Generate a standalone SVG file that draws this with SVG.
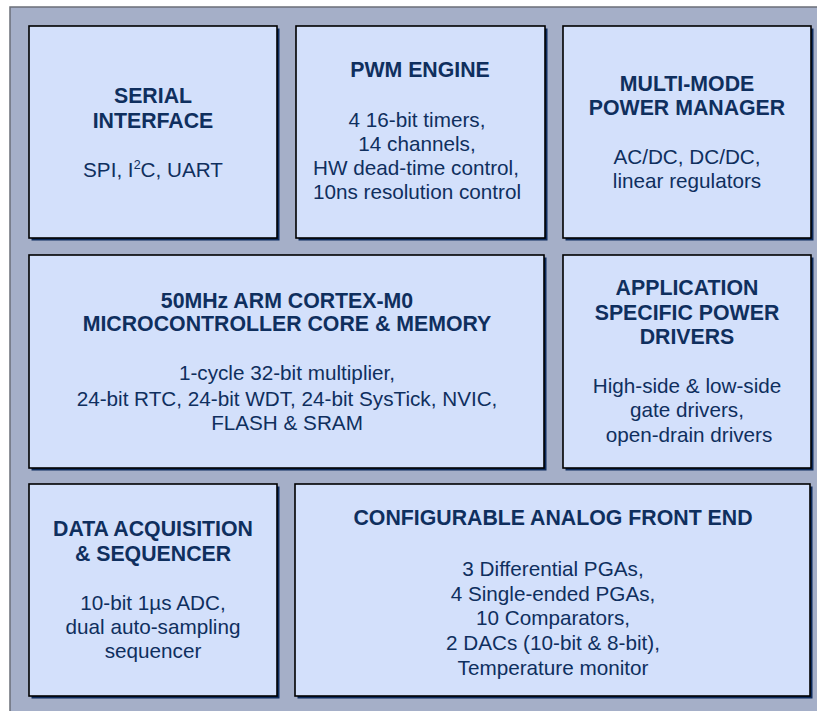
<svg xmlns="http://www.w3.org/2000/svg" width="817" height="711" viewBox="0 0 817 711">
<style>
.bg{fill:#a5afc8;stroke:#6b6f78;stroke-width:1.5}
.sh{fill:#0d2b5c}
.bx{fill:#d3e0fb;stroke:#000;stroke-width:1.6}
text{font-family:"Liberation Sans",Arial,sans-serif;fill:#0f2f5e;text-anchor:middle}
.t{font-weight:bold;font-size:21.3px}
.b{font-size:20.7px}
</style>
<rect class="bg" x="10" y="7" width="820" height="720"/>
<g id="serial">
<rect class="sh" x="31.5" y="28.5" width="248" height="212"/>
<rect class="bx" x="29" y="26" width="248" height="212"/>
<text class="t" x="153" y="103">SERIAL</text>
<text class="t" x="153" y="127.5">INTERFACE</text>
<text class="b" x="153" y="176.5">SPI, I<tspan font-size="12.5" dy="-8">2</tspan><tspan dy="8">C, UART</tspan></text>
</g>
<g id="pwm">
<rect class="sh" x="298.5" y="28.5" width="249" height="212"/>
<rect class="bx" x="296" y="26" width="249" height="212"/>
<text class="t" x="420" y="77">PWM ENGINE</text>
<text class="b" x="417" y="126.5">4 16-bit timers,</text>
<text class="b" x="417" y="151">14 channels,</text>
<text class="b" x="416" y="175">HW dead-time control,</text>
<text class="b" x="417" y="199">10ns resolution control</text>
</g>
<g id="power-manager">
<rect class="sh" x="565.5" y="28.5" width="248" height="212"/>
<rect class="bx" x="563" y="26" width="248" height="212"/>
<text class="t" x="687" y="90.5">MULTI-MODE</text>
<text class="t" x="687" y="115">POWER MANAGER</text>
<text class="b" x="687" y="163.5">AC/DC, DC/DC,</text>
<text class="b" x="687" y="187.5">linear regulators</text>
</g>
<g id="cortex">
<rect class="sh" x="31.5" y="257.5" width="515" height="213"/>
<rect class="bx" x="29" y="255" width="515" height="213"/>
<text class="t" x="287" y="308">50MHz ARM CORTEX-M0</text>
<text class="t" x="287" y="331">MICROCONTROLLER CORE &amp; MEMORY</text>
<text class="b" x="287" y="380">1-cycle 32-bit multiplier,</text>
<text class="b" x="287" y="405.5">24-bit RTC, 24-bit WDT, 24-bit SysTick, NVIC,</text>
<text class="b" x="287" y="430">FLASH &amp; SRAM</text>
</g>
<g id="power-drivers">
<rect class="sh" x="565.5" y="257.5" width="248" height="213"/>
<rect class="bx" x="563" y="255" width="248" height="213"/>
<text class="t" x="687" y="295">APPLICATION</text>
<text class="t" x="687" y="320">SPECIFIC POWER</text>
<text class="t" x="687" y="344">DRIVERS</text>
<text class="b" x="687" y="393">High-side &amp; low-side</text>
<text class="b" x="687" y="417">gate drivers,</text>
<text class="b" x="689" y="441.5">open-drain drivers</text>
</g>
<g id="data-acq">
<rect class="sh" x="31.5" y="486.5" width="248" height="212"/>
<rect class="bx" x="29" y="484" width="248" height="212"/>
<text class="t" x="153" y="535.5">DATA ACQUISITION</text>
<text class="t" x="153" y="560.5">&amp; SEQUENCER</text>
<text class="b" x="153" y="610">10-bit 1µs ADC,</text>
<text class="b" x="153" y="634">dual auto-sampling</text>
<text class="b" x="153" y="658">sequencer</text>
</g>
<g id="afe">
<rect class="sh" x="297.5" y="486.5" width="515" height="212"/>
<rect class="bx" x="295" y="484" width="515" height="212"/>
<text class="t" x="553" y="524.5">CONFIGURABLE ANALOG FRONT END</text>
<text class="b" x="553" y="575.5">3 Differential PGAs,</text>
<text class="b" x="553" y="600.5">4 Single-ended PGAs,</text>
<text class="b" x="553" y="625">10 Comparators,</text>
<text class="b" x="553" y="650">2 DACs (10-bit &amp; 8-bit),</text>
<text class="b" x="553" y="674.5">Temperature monitor</text>
</g>
<g id="connectors"/>
</svg>
